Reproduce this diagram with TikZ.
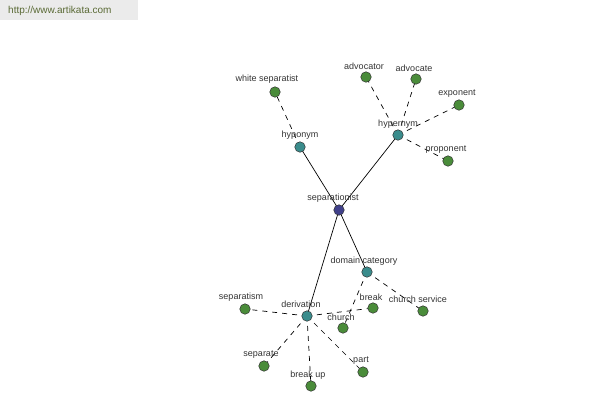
\documentclass[tikz,border=0pt]{standalone}
\usepackage{fontspec}
\setmainfont{Liberation Sans}
\begin{document}
\begin{tikzpicture}[x=1pt,y=-1pt,
  dot/.style={circle,draw=black!80,line width=0.5pt,minimum size=10.5pt,inner sep=0pt},
  root/.style={dot,fill=rootc},
  mid/.style={dot,fill=midc},
  leaf/.style={dot,fill=leafc},
  lab/.style={font=\fontsize{9}{10}\selectfont,text=black!80,inner sep=0pt},
  solidedge/.style={draw=black,line width=0.7pt},
  dashedge/.style={draw=black,line width=0.7pt,dash pattern=on 5pt off 5pt}]
\definecolor{rootc}{HTML}{40408A}
\definecolor{midc}{HTML}{3A8C8C}
\definecolor{leafc}{HTML}{4A8C3A}
\definecolor{wmtext}{HTML}{5A6A35}
\useasboundingbox (0,0) rectangle (600,400);
\fill[black!8] (0,0) rectangle (138,20);
\node[anchor=west,font=\fontsize{10}{11}\selectfont,text=wmtext,inner sep=0pt] (wm) at (8,11) {http://www.artikata.com};
% node positions
\coordinate (pSep) at (339,210);
\coordinate (pHypo) at (300,147);
\coordinate (pHyper) at (398,135);
\coordinate (pDom) at (367,272);
\coordinate (pDer) at (307,316);
\coordinate (pWhite) at (275,92);
\coordinate (pAdvr) at (366,77);
\coordinate (pAdv) at (416,79);
\coordinate (pExp) at (459,105);
\coordinate (pProp) at (448,161);
\coordinate (pSism) at (245,309);
\coordinate (pSate) at (264,366);
\coordinate (pBup) at (311,386);
\coordinate (pPart) at (363,372);
\coordinate (pChurch) at (343,328);
\coordinate (pBreak) at (373,308);
\coordinate (pCserv) at (423,311);
% edges
\path[solidedge] (pSep) -- (pHypo) (pSep) -- (pHyper) (pSep) -- (pDom) (pSep) -- (pDer);
\path[dashedge] (pHypo) -- (pWhite);
\path[dashedge] (pHyper) -- (pAdvr) (pHyper) -- (pAdv) (pHyper) -- (pExp) (pHyper) -- (pProp);
\path[dashedge] (pDom) -- (pChurch) (pDom) -- (pCserv);
\path[dashedge] (pDer) -- (pSism) (pDer) -- (pSate) (pDer) -- (pBup) (pDer) -- (pPart) (pDer) -- (pBreak);
% dots
\node[root] (sep) at (pSep) {};
\node[mid] (hypo) at (pHypo) {};
\node[mid] (hyper) at (pHyper) {};
\node[mid] (dom) at (pDom) {};
\node[mid] (der) at (pDer) {};
\node[leaf] (white) at (pWhite) {};
\node[leaf] (advr) at (pAdvr) {};
\node[leaf] (adv) at (pAdv) {};
\node[leaf] (exp) at (pExp) {};
\node[leaf] (prop) at (pProp) {};
\node[leaf] (sism) at (pSism) {};
\node[leaf] (sate) at (pSate) {};
\node[leaf] (bup) at (pBup) {};
\node[leaf] (part) at (pPart) {};
\node[leaf] (church) at (pChurch) {};
\node[leaf] (break) at (pBreak) {};
\node[leaf] (cserv) at (pCserv) {};
% labels
\node[lab] (lSep) at (333,198) {separationist};
\node[lab] (lHypo) at (300,135) {hyponym};
\node[lab] (lHyper) at (398,124) {hypernym};
\node[lab] (lDom) at (364,261) {domain category};
\node[lab] (lDer) at (301,304) {derivation};
\node[lab] (lWhite) at (267,79) {white separatist};
\node[lab] (lAdvr) at (364,66) {advocator};
\node[lab] (lAdv) at (414,68) {advocate};
\node[lab] (lExp) at (457,94) {exponent};
\node[lab] (lProp) at (446,150) {proponent};
\node[lab] (lSism) at (241,297) {separatism};
\node[lab] (lSate) at (261,355) {separate};
\node[lab] (lBup) at (308,375) {break up};
\node[lab] (lPart) at (361,361) {part};
\node[lab] (lChurch) at (341,317) {church};
\node[lab] (lBreak) at (371,297) {break};
\node[lab] (lCserv) at (418,299) {church service};
\end{tikzpicture}
\end{document}
